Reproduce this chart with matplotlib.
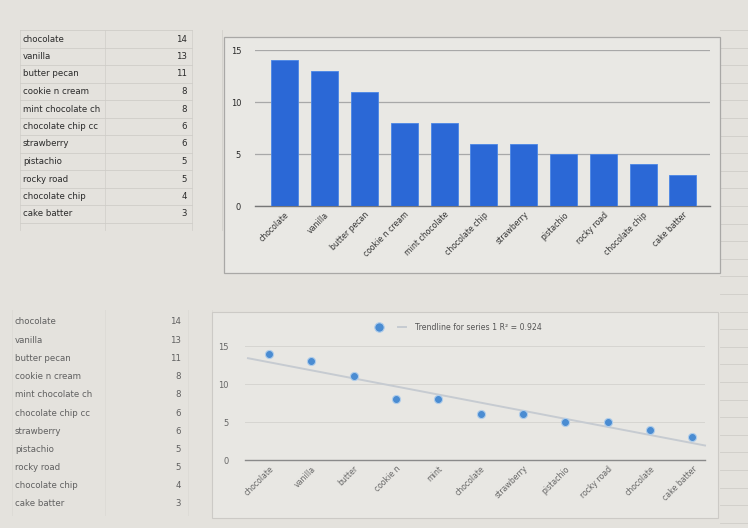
import numpy as np
import matplotlib
matplotlib.use("Agg")
import matplotlib.pyplot as plt
from matplotlib.patches import Rectangle

# data
flavors = ["chocolate", "vanilla", "butter pecan", "cookie n cream", "mint chocolate",
           "chocolate chip", "strawberry", "pistachio", "rocky road", "chocolate chip",
           "cake batter"]
cell_names = ["chocolate", "vanilla", "butter pecan", "cookie n cream", "mint chocolate ch",
              "chocolate chip cc", "strawberry", "pistachio", "rocky road", "chocolate chip",
              "cake batter"]
short_names = ["chocolate", "vanilla", "butter", "cookie n", "mint", "chocolate",
               "strawberry", "pistachio", "rocky road", "chocolate", "cake batter"]
votes = [14, 13, 11, 8, 8, 6, 6, 5, 5, 4, 3]
yticks = [0, 5, 10, 15]

W, H = 748, 528
BG = "#e4e2dd"

def box(x0, y0, x1, y1):
    return [x0 / W, 1 - y1 / H, (x1 - x0) / W, (y1 - y0) / H]

fig = plt.figure(figsize=(W / 100, H / 100), dpi=100, facecolor=BG)
over = fig.add_axes([0, 0, 1, 1], facecolor="none")
over.set_xlim(0, W)
over.set_ylim(H, 0)
over.axis("off")

# spreadsheet cell grid
for y in np.arange(30, 528, 17.6):
    over.plot([720, 748], [y, y], color="#cfcdc8", lw=0.6, zorder=0)
for x in [20, 105, 192, 222]:
    over.plot([x, x], [30, 230], color="#d3d1cc", lw=0.6, zorder=0)
for x in [12, 105, 188, 212]:
    over.plot([x, x], [310, 515], color="#dcdad5", lw=0.6, zorder=0)

# top table
top_y = 39 + np.arange(len(cell_names)) * 17.5
for i, (name, v) in enumerate(zip(cell_names, votes)):
    y = top_y[i]
    over.plot([20, 192], [y + 8.7, y + 8.7], color="#cfcdc8", lw=0.6, zorder=0)
    over.text(23, y, name, fontsize=6.2, color="#2a2a2a", va="center", ha="left")
    over.text(187, y, str(v), fontsize=6.2, color="#2a2a2a", va="center", ha="right")
over.plot([20, 192], [30, 30], color="#cfcdc8", lw=0.6, zorder=0)

# bottom table
bot_y = 322 + np.arange(len(cell_names)) * 18.2
for i, (name, v) in enumerate(zip(cell_names, votes)):
    y = bot_y[i]
    over.text(15, y, name, fontsize=6.2, color="#606060", va="center", ha="left")
    over.text(181, y, str(v), fontsize=6.2, color="#606060", va="center", ha="right")

# chart frames
over.add_patch(Rectangle((224, 37), 496, 236, facecolor="#e9e8e4", edgecolor="#a9a8a6",
                         lw=0.9, zorder=0.5))
over.add_patch(Rectangle((212, 312), 506, 206, facecolor="#e8e7e3", edgecolor="#cccac6",
                         lw=0.8, zorder=0.5))

# bar chart
ax1 = fig.add_axes(box(255, 50, 710, 206), facecolor="none")
x = np.arange(len(votes))
ax1.bar(x, votes, width=0.68, color="#2b68d6", edgecolor="#4a86e6", linewidth=0.6, zorder=3)
ax1.set_xlim(-0.75, 10.68)
ax1.set_ylim(0, 15)
ax1.set_yticks(yticks)
ax1.set_yticklabels([str(t) for t in yticks], fontsize=6, color="#2a2a2a")
ax1.yaxis.grid(True, color="#a8a8a8", lw=0.9)
ax1.tick_params(axis="y", length=0, pad=10)
ax1.set_xticks(x)
ax1.set_xticklabels(flavors, rotation=45, ha="right", rotation_mode="anchor",
                    fontsize=5.6, color="#333333")
ax1.tick_params(axis="x", length=0, pad=3)
for s in ["top", "right", "left"]:
    ax1.spines[s].set_visible(False)
ax1.spines["bottom"].set_color("#777777")
ax1.spines["bottom"].set_linewidth(1.0)
ax1.set_axisbelow(True)

# scatter with trendline
ax2 = fig.add_axes(box(245, 346, 705, 460), facecolor="none")
ax2.scatter(x, votes, s=34, color="#4a8cd2", edgecolor="#b0cdea", linewidth=0.8, zorder=4,
            clip_on=False)
slope, icpt = np.polyfit(x, votes, 1)
fit = slope * x + icpt
r2 = 1 - np.sum((np.array(votes) - fit) ** 2) / np.sum((np.array(votes) - np.mean(votes)) ** 2)
xt = np.array([-0.5, 10.3])
ax2.plot(xt, slope * xt + icpt, color="#c6cbd1", lw=1.4, zorder=3, clip_on=False)
ax2.set_xlim(-0.57, 10.3)
ax2.set_ylim(0, 15)
ax2.set_yticks(yticks)
ax2.set_yticklabels([str(t) for t in yticks], fontsize=6, color="#666666")
ax2.yaxis.grid(True, color="#d6d5d1", lw=0.7)
ax2.tick_params(axis="y", length=0, pad=12)
ax2.set_xticks(x)
ax2.set_xticklabels(short_names, rotation=45, ha="right", rotation_mode="anchor",
                    fontsize=5.6, color="#666666")
ax2.tick_params(axis="x", length=0, pad=3)
for s in ["top", "right", "left"]:
    ax2.spines[s].set_visible(False)
ax2.spines["bottom"].set_color("#8a8a8a")
ax2.spines["bottom"].set_linewidth(1.0)

# legend row
over.scatter([379], [327], s=46, color="#4a8cd2", edgecolor="#b0cdea", linewidth=0.8, zorder=5)
over.plot([398, 406], [327, 327], color="#c6cbd1", lw=1.4, zorder=5)
over.text(415, 327, "Trendline for series 1 R\u00b2 = %.3f" % r2, fontsize=5.6,
          color="#555555", va="center", ha="left", zorder=5)

fig.savefig("out.png", dpi=100, facecolor=BG)
